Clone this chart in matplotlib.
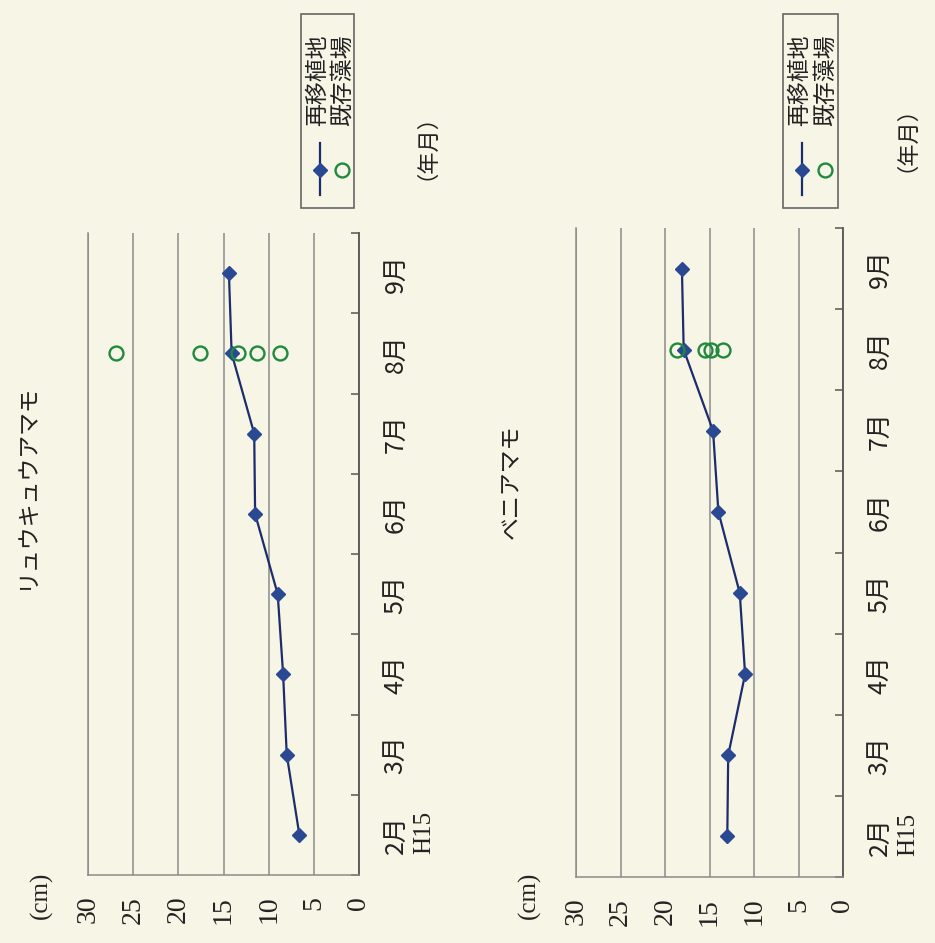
import numpy as np
import matplotlib.pyplot as plt
from matplotlib.patches import Rectangle
from matplotlib.lines import Line2D

plt.rcParams['font.family'] = ['Noto Sans CJK JP', 'DejaVu Sans']

months = ['2月', '3月', '4月', '5月', '6月', '7月', '8月', '9月']
year_label = 'H15'
existing_month = '8月'
value_ticks = [0, 5, 10, 15, 20, 25, 30]
legend_labels = ['再移植地', '既存藻場']

ryukyu_title = 'リュウキュウアマモ'
ryukyu_replant = [6.6, 8.0, 8.4, 9.0, 11.5, 11.6, 14.1, 14.4]
ryukyu_existing = [26.9, 17.6, 13.4, 11.3, 8.7]

beni_title = 'ベニアマモ'
beni_replant = [13.0, 12.9, 11.0, 11.6, 14.0, 14.6, 17.9, 18.1]
beni_existing = [18.7, 15.5, 14.8, 13.5]

W, H = 935, 943
bg = '#f6f5e6'
line_c = '#1c2c6c'
mark_c = '#2b4892'
green = '#1f8a3c'
grid_c = '#8a8a8a'
text_c = '#222222'
serif = ['Liberation Serif', 'DejaVu Serif']

fig = plt.figure(figsize=(W / 100, H / 100), dpi=100, facecolor=bg)


def fx(x):
    return x / W


def fy(y):
    return 1 - y / H


def ftext(x, y, s, size, family=None):
    kw = {}
    if family is not None:
        kw['family'] = family
    fig.text(fx(x), fy(y), s, rotation=90, ha='center', va='center',
             fontsize=size, color=text_c, **kw)


def panel(box, title, replant, existing, title_xy, cm_xy, nen_xy, leg):
    left, top, right, bottom = box
    ax = fig.add_axes([fx(left), fy(bottom), fx(right - left), (bottom - top) / H])
    ax.set_facecolor('none')
    idx = np.arange(len(months))

    ax.plot(replant, idx, color=line_c, lw=1.6, marker='D', ms=7.5,
            mfc=mark_c, mec=mark_c, zorder=3, clip_on=False)
    k = months.index(existing_month)
    ax.plot(existing, [k] * len(existing), ls='none', marker='o', ms=10,
            mfc='none', mec=green, mew=1.7, zorder=4, clip_on=False)

    ax.set_xlim(30, 0)
    ax.set_ylim(-0.5, len(months) - 0.5)
    ax.xaxis.grid(True, color=grid_c, lw=1.1)
    ax.set_axisbelow(True)

    ax.set_xticks(value_ticks)
    ax.set_xticklabels([str(v) for v in value_ticks], rotation=90,
                       family=serif, fontsize=20, color=text_c)
    ax.tick_params(axis='x', length=0, pad=15)

    ax.yaxis.tick_right()
    ax.set_yticks(np.arange(-0.5, len(months)))
    ax.set_yticklabels([])
    ax.set_yticks(idx, minor=True)
    ax.set_yticklabels(months, minor=True, rotation=90, va='center',
                       fontsize=18, color=text_c)
    ax.tick_params(axis='y', which='major', direction='in', length=6,
                   color='#555555', width=1.1)
    ax.tick_params(axis='y', which='minor', length=0, pad=17)

    ax.spines['top'].set_visible(False)
    for s in ['left', 'bottom']:
        ax.spines[s].set_color(grid_c)
        ax.spines[s].set_linewidth(1.1)
    ax.spines['right'].set_color('#555555')
    ax.spines['right'].set_linewidth(1.3)

    ax.annotate(year_label, xy=(1, 0), xycoords=('axes fraction', 'data'),
                xytext=(65, 2), textcoords='offset pixels', rotation=90,
                ha='center', va='center', family=serif, fontsize=18,
                color=text_c)

    ftext(*title_xy, title, 16.5)
    ftext(*cm_xy, '(cm)', 18, serif)
    ftext(*nen_xy, '（年月）', 16)

    # legend drawn by hand, rotated like the rest of the page
    bx0, by0, bx1, by1, lx, cx = leg
    fig.add_artist(Rectangle((fx(bx0), fy(by1)), fx(bx1 - bx0), (by1 - by0) / H,
                             transform=fig.transFigure, fill=False,
                             edgecolor='#666666', lw=1.2))
    fig.add_artist(Line2D([fx(lx), fx(lx)], [fy(143), fy(195)],
                          transform=fig.transFigure, color=line_c, lw=1.6))
    fig.add_artist(Line2D([fx(lx)], [fy(170)], transform=fig.transFigure,
                          marker='D', ms=7.5, mfc=mark_c, mec=mark_c))
    fig.add_artist(Line2D([fx(cx)], [fy(170)], transform=fig.transFigure,
                          marker='o', ms=10, mfc='none', mec=green, mew=1.7))
    ftext(lx - 2, 80, legend_labels[0], 16.5)
    ftext(cx, 80, legend_labels[1], 16.5)
    return ax


panel((88, 233, 359, 875), ryukyu_title, ryukyu_replant, ryukyu_existing,
      (26, 486), (41, 895), (415, 135), (301, 14, 354, 208, 320, 342))
panel((576, 228, 843, 877), beni_title, beni_replant, beni_existing,
      (510, 482), (529, 895), (895, 128), (783, 14, 838, 208, 802, 825))

fig.savefig('out.png', dpi=100, facecolor=bg)
